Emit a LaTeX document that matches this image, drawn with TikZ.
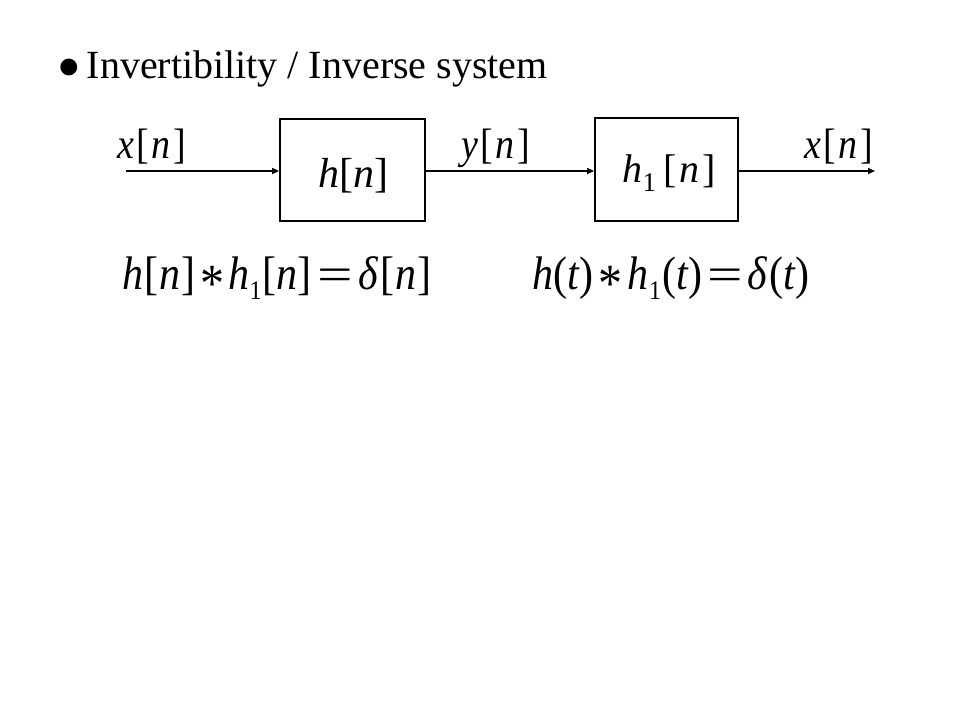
\documentclass[tikz,border=0pt]{standalone}
\usepackage{fontspec}
\setmainfont{Liberation Serif}
\usetikzlibrary{arrows.meta}
\newcommand\mi[1]{\textit{#1}}
\newcommand\conv{\raisebox{-11pt}{\fontsize{48}{50}\selectfont *}}
\newcommand\eqsign{\raisebox{-1pt}{\scalebox{1.5}[1]{=}}}
\newcommand\subone[1]{\kern0.5pt\raisebox{-9pt}{\fontsize{#1}{#1}\selectfont 1}}
\newcommand\sig[2]{\scalebox{1}[1.12]{\mi{#1}\kern2.5pt[\kern2.5pt\mi{#2}\kern2.5pt]}}
\tikzset{
  blk/.style={draw, line width=1.8pt, minimum width=145pt, minimum height=102pt, inner sep=0pt},
  arr/.style={line width=1.6pt, -{Triangle[length=7pt,width=6pt]}},
  lbl/.style={anchor=base west, inner sep=0pt, font=\fontsize{38}{40}\selectfont},
  eq/.style={anchor=base west, inner sep=0pt, font=\fontsize{42}{44}\selectfont},
  ttl/.style={anchor=base west, inner sep=0pt, font=\fontsize{40}{42}\selectfont}
}
\begin{document}
\begin{tikzpicture}[x=1pt,y=-1pt]
\useasboundingbox[fill=white] (0,0) rectangle (960,720);
% title
\node[ttl] (title) at (57,78) {\fontsize{39}{40}\selectfont ●\kern6pt\fontsize{40}{42}\selectfont Invertibility / Inverse system};
% blocks
\node[blk] (b1) at (352.5,170) {};
\node[blk, minimum width=143pt, minimum height=103pt] (b2) at (666.5,169.5) {};
\node[lbl] (hn) at (318,187) {\fontsize{42}{44}\selectfont\mi{h}[\mi{n}]};
\node[lbl] (h1n) at (622,182) {\fontsize{40}{42}\selectfont\mi{h}\subone{27}\kern7pt[\kern3pt\mi{n}\kern3pt]};
% signal labels
\node[lbl] (xin) at (117,158) {\sig{x}{n}};
\node[lbl] (yn) at (461,158) {\sig{y}{n}};
\node[lbl] (xout) at (803,158) {\kern1pt\sig{x}{n}};
% connectors
\coordinate (src) at (126,171);
\coordinate (dst) at (875,171);
\draw[arr] (src) -- (src -| b1.west);
\draw[arr] (b1.east |- src) -- (src -| b2.west);
\draw[arr] (b2.east |- src) -- (dst);
% equations
\node[eq] (eq1) at (122,289) {\scalebox{1}[1.12]{\mi{h}\kern1pt[\kern1pt\mi{n}\kern1pt]\kern5pt\conv\kern4pt\mi{h}\subone{24}\kern1pt[\mi{n}]\kern6pt\eqsign\kern5pt\mi{δ}\kern2pt[\kern1pt\mi{n}\kern1pt]}};
\node[eq] (eq2) at (532,289) {\scalebox{1}[1.12]{\mi{h}(\mi{t})\kern5pt\conv\kern5pt\mi{h}\subone{24}\kern1pt(\mi{t})\kern5pt\eqsign\kern4pt\mi{δ}\kern2pt(\mi{t})}};
\end{tikzpicture}
\end{document}
